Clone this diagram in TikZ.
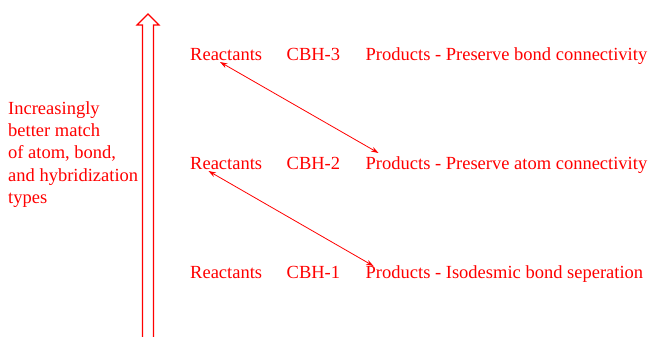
\documentclass[tikz,border=0pt]{standalone}
\usepackage{fontspec}
\setmainfont{Liberation Serif}
\usetikzlibrary{arrows.meta}
\begin{document}
\begin{tikzpicture}[x=1pt,y=-1pt,
  lbl/.style={anchor=base west,inner sep=0pt,text=red,font=\fontsize{18.5}{22.2}\selectfont},
  link/.style={red,line width=0.8pt,{Stealth[length=7.5pt,width=5pt]}-{Stealth[length=7.5pt,width=5pt]}},
  bigarrow/.style={red,line width=1.1pt,line join=miter}]
\useasboundingbox (0,0) rectangle (649,337);

% upward hollow arrow on the left
\draw[bigarrow] (142.5,340) -- (142.5,25) -- (137,25) -- (148,14) -- (159,25) -- (153.5,25) -- (153.5,340);

% caption beside the arrow
\node[lbl,align=left,anchor=north west] (cap) at (8,101.5)
  {Increasingly\\better match\\of atom, bond,\\and hybridization\\types};

% three rows
\node[lbl] (r3) at (190,61) {Reactants};
\node[lbl] (c3) at (286.5,61) {CBH-3};
\node[lbl] (p3) at (365.5,61) {Products - Preserve bond connectivity};

\node[lbl] (r2) at (190,169.5) {Reactants};
\node[lbl] (c2) at (286.5,169.5) {CBH-2};
\node[lbl] (p2) at (365.5,169.5) {Products - Preserve atom connectivity};

\node[lbl] (r1) at (190,278) {Reactants};
\node[lbl] (c1) at (286.5,278) {CBH-1};
\node[lbl] (p1) at (365.5,278) {Products - Isodesmic bond seperation};

% links between rows
\coordinate (l3a) at (220,62);
\coordinate (l3b) at (378.5,153);
\coordinate (l2a) at (208.5,171);
\coordinate (l2b) at (373.5,266);
\draw[link] (l3a) -- (l3b);
\draw[link] (l2a) -- (l2b);
\end{tikzpicture}
\end{document}
